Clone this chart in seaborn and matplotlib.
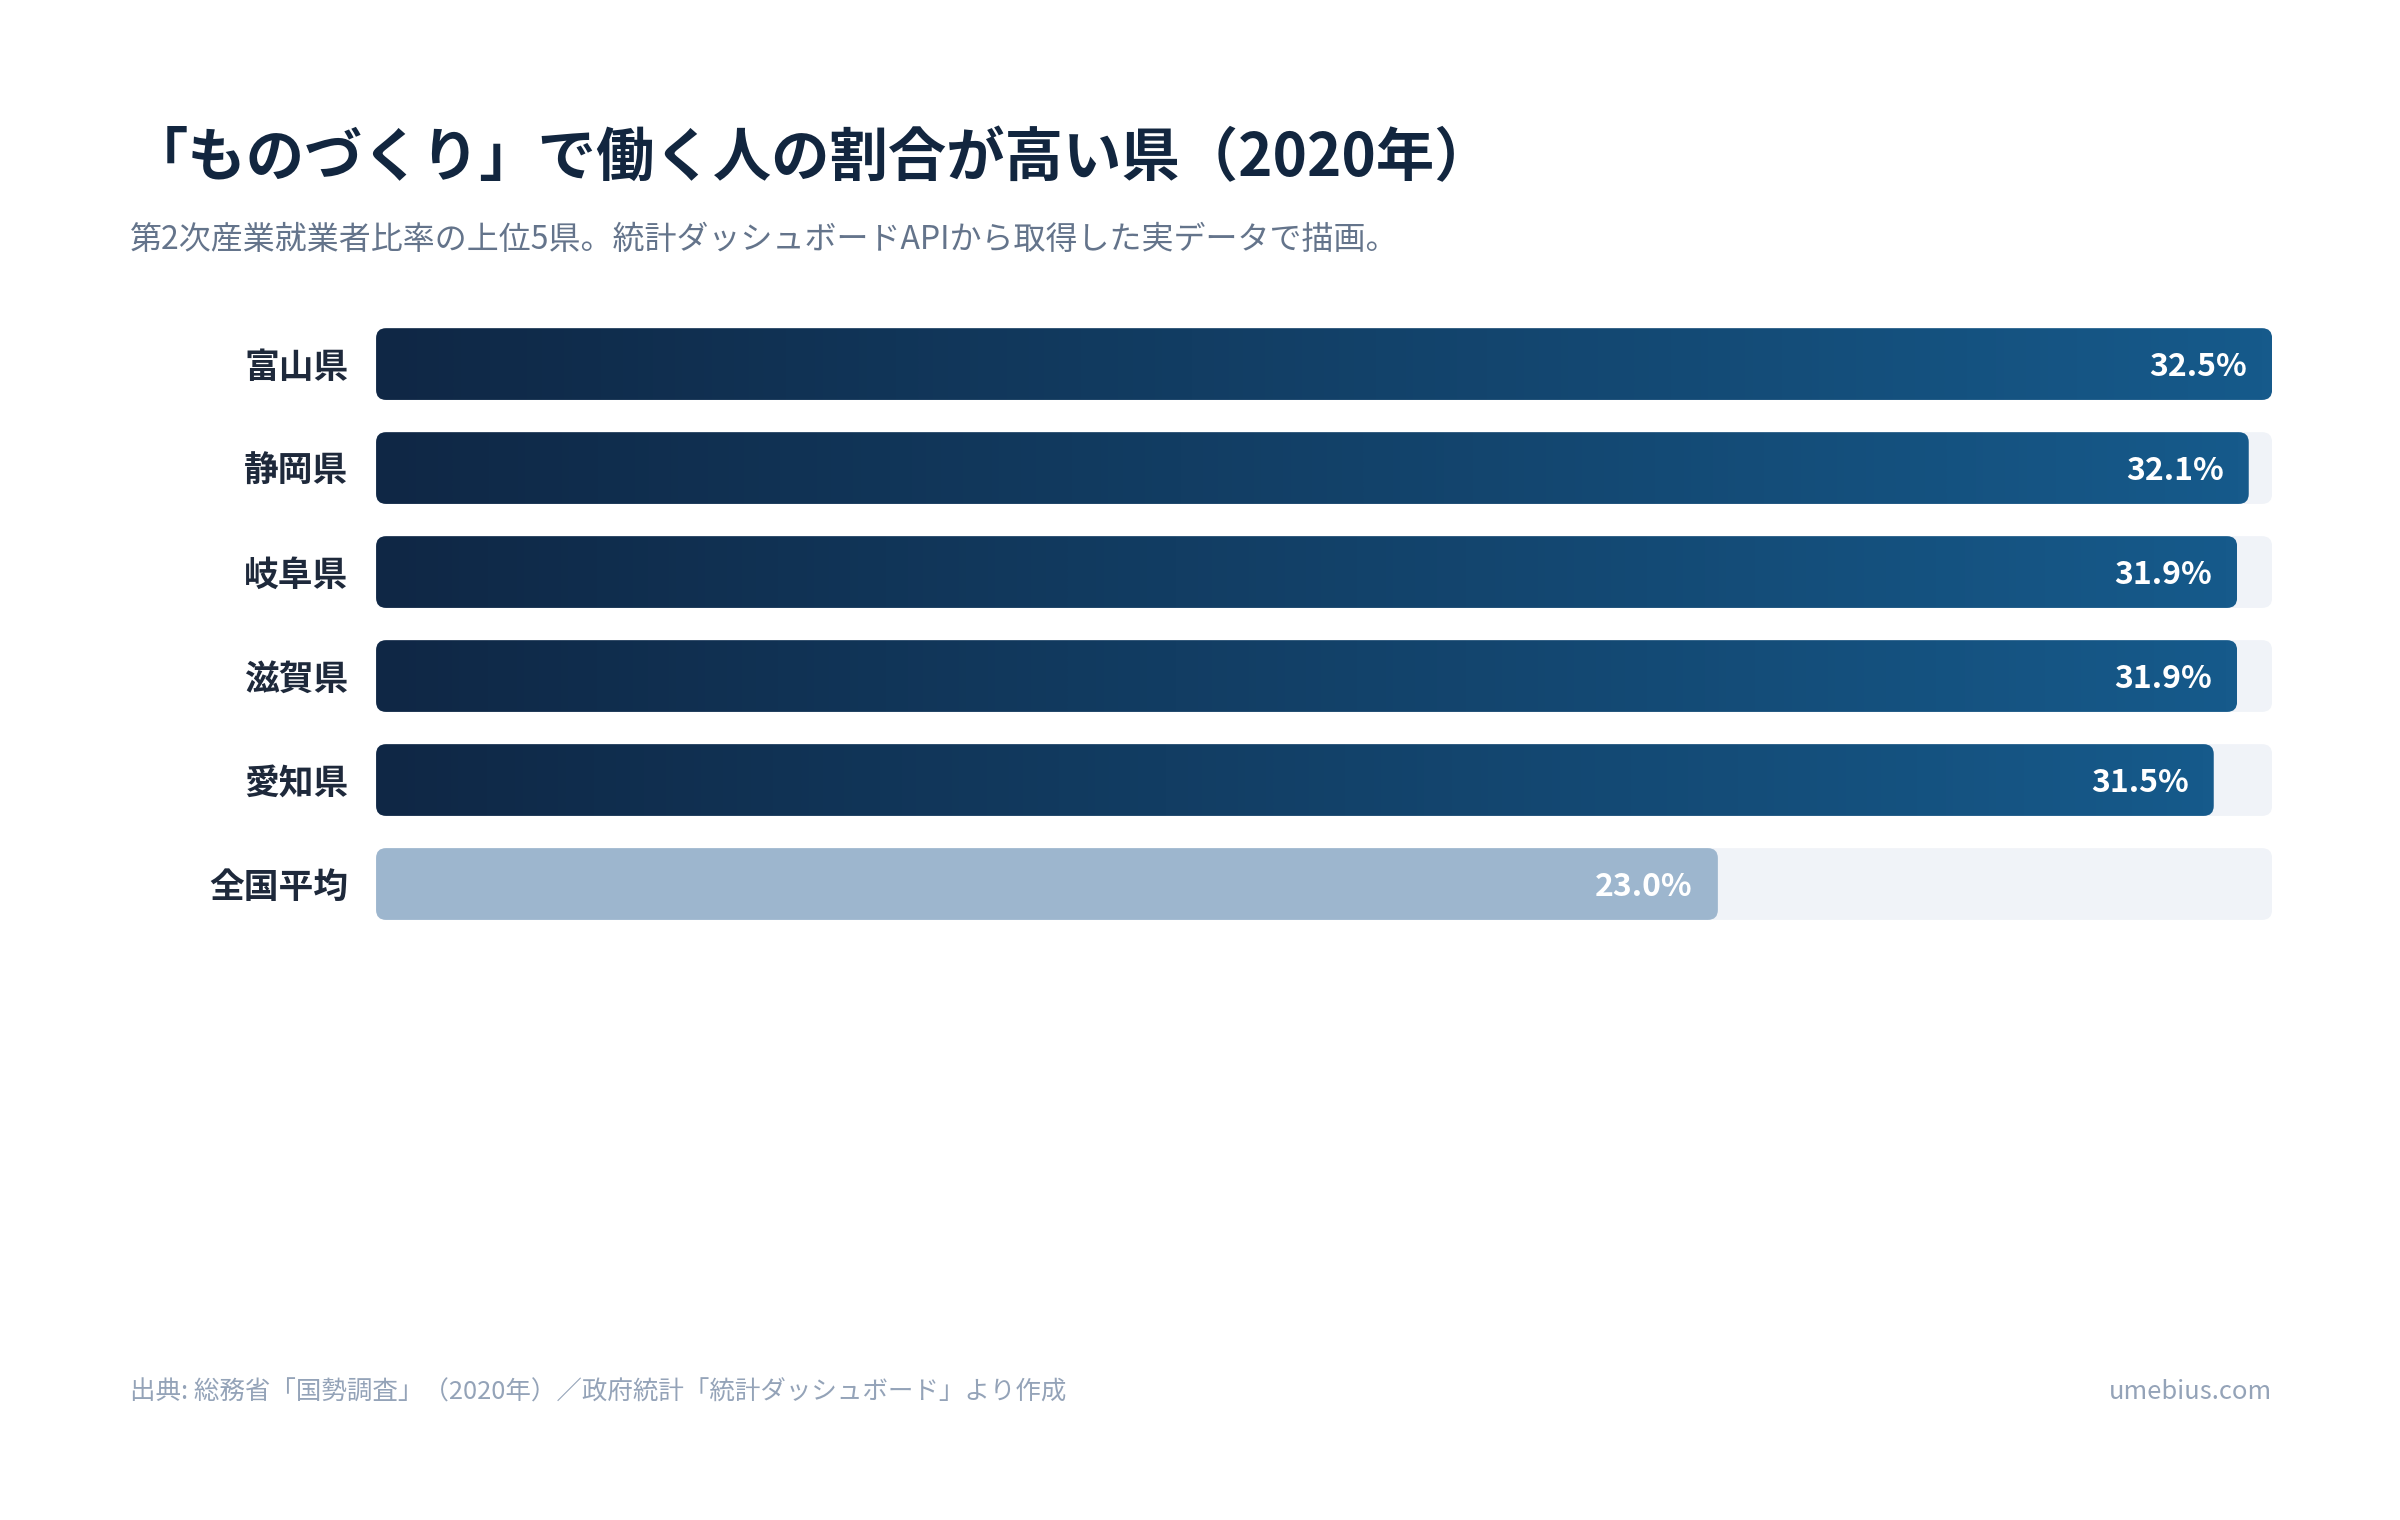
import numpy as np
import pandas as pd
import matplotlib.pyplot as plt
import seaborn as sns
from matplotlib.patches import FancyBboxPatch
from matplotlib.colors import LinearSegmentedColormap

# data
prefs = ["富山県", "静岡県", "岐阜県", "滋賀県", "愛知県", "全国平均"]
rates = [32.5, 32.1, 31.9, 31.9, 31.5, 23.0]
is_avg = [False, False, False, False, False, True]

title = "「ものづくり」で働く人の割合が高い県（2020年）"
subtitle = "第2次産業就業者比率の上位5県。統計ダッシュボードAPIから取得した実データで描画。"
source = "出典: 総務省「国勢調査」（2020年）／政府統計「統計ダッシュボード」より作成"
credit = "umebius.com"

sns.set_theme(style="white")
plt.rcParams["font.family"] = ["Noto Sans CJK JP", "DejaVu Sans"]

df = pd.DataFrame({"pref": prefs, "rate": rates})
df["track"] = max(rates)

fig = plt.figure(figsize=(12, 7.6), dpi=200)
fig.patch.set_facecolor("white")
ax = fig.add_axes([0.1567, 0.3842, 0.79, 0.4105])

# background tracks, then the real bars
sns.barplot(data=df, y="pref", x="track", ax=ax, width=0.69, color="#f0f3f8")
n_track = len(ax.patches)
sns.barplot(data=df, y="pref", x="rate", ax=ax, width=0.69, color="#15598a")

xmax = max(rates)
ax.set_xlim(0, xmax)
ax.set_ylim(len(prefs) - 0.5, -0.5)

# corner radius ~10px, converted to data units in x and y
ax_w = 0.79 * 2400
ax_h = 0.4105 * 1520
rx = 10 * xmax / ax_w
ry = 10 * len(prefs) / ax_h
asp = ry / rx

grad = LinearSegmentedColormap.from_list("bar", ["#0f2745", "#165a8b"])

patches = list(ax.patches)
for k, p in enumerate(patches):
    x0, y0, w, h = p.get_x(), p.get_y(), p.get_width(), p.get_height()
    p.set_visible(False)
    if k < n_track:
        box = FancyBboxPatch((x0, y0), w, h, boxstyle=f"round,pad=0,rounding_size={rx}",
                             mutation_aspect=asp, facecolor="#f0f3f8", edgecolor="none", zorder=1)
        ax.add_patch(box)
        continue
    i = k - n_track
    if is_avg[i]:
        box = FancyBboxPatch((x0, y0), w, h, boxstyle=f"round,pad=0,rounding_size={rx}",
                             mutation_aspect=asp, facecolor="#9db6ce", edgecolor="none", zorder=2)
        ax.add_patch(box)
    else:
        box = FancyBboxPatch((x0, y0), w, h, boxstyle=f"round,pad=0,rounding_size={rx}",
                             mutation_aspect=asp, facecolor="none", edgecolor="none", zorder=2)
        ax.add_patch(box)
        im = ax.imshow(np.linspace(0, 1, 256).reshape(1, -1), cmap=grad, aspect="auto",
                       extent=(x0, x0 + w, y0 + h, y0), zorder=2, interpolation="bicubic")
        im.set_clip_path(box)

for i, v in enumerate(rates):
    ax.annotate(f"{v:.1f}%", xy=(v, i), xytext=(-9, -1), textcoords="offset points",
                ha="right", va="center", color="white", fontsize=11.5, fontweight="bold", zorder=5)

ax.set_xlim(0, xmax)
ax.set_ylim(len(prefs) - 0.5, -0.5)
ax.set_xlabel("")
ax.set_ylabel("")
ax.set_xticks([])
sns.despine(ax=ax, left=True, bottom=True)
ax.tick_params(axis="y", length=0, pad=10)
for t in ax.get_yticklabels():
    t.set_fontweight("bold")
    t.set_fontsize(12.5)
    t.set_color("#1e293b")

fig.text(0.0542, 0.895, title, fontsize=21, fontweight="bold", color="#12263f", va="center", ha="left")
fig.text(0.0542, 0.842, subtitle, fontsize=11.5, color="#64748b", va="center", ha="left")
fig.text(0.0542, 0.084, source, fontsize=9.2, color="#94a3b8", va="center", ha="left")
fig.text(0.9467, 0.084, credit, fontsize=9.2, color="#94a3b8", va="center", ha="right")

fig.savefig("out.png", dpi=200, facecolor="white")
